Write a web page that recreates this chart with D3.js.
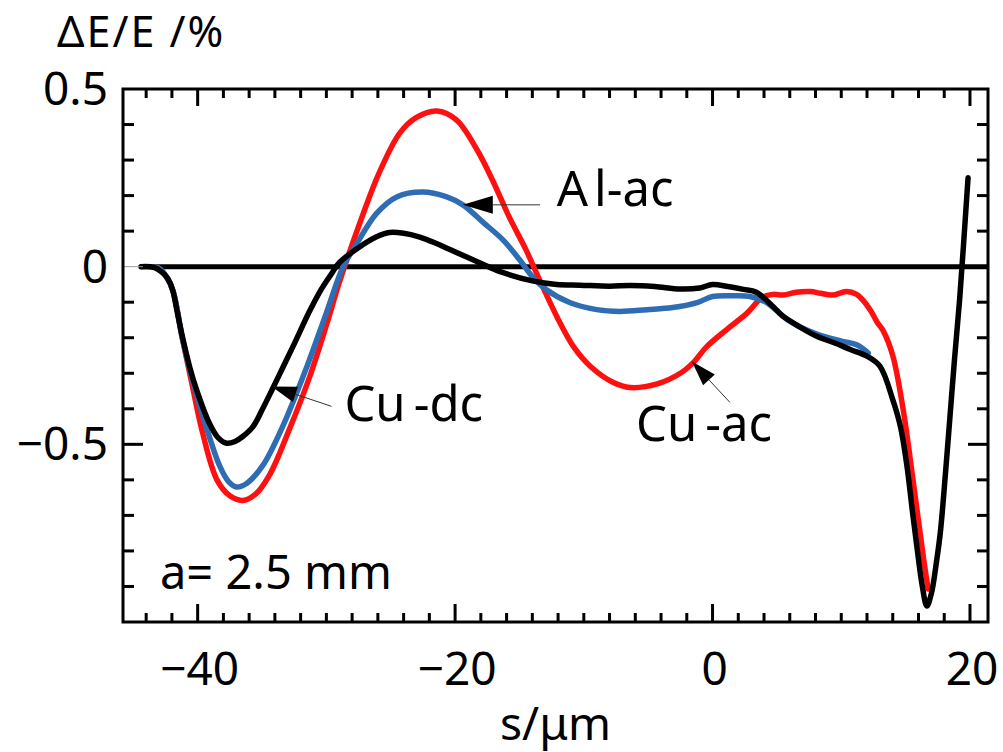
<!DOCTYPE html>
<html>
<head>
<meta charset="utf-8">
<script src="https://cdn.jsdelivr.net/npm/d3@7"></script>
<style>
  body { margin: 0; background: #fff; }
  svg { display: block; font-family: "Noto Sans", sans-serif; }
</style>
</head>
<body>
<div id="chart"></div>
<script>
// Cu-dc (black)
const cuDcS = [-44.4, -43.4, -42.8, -42.3, -41.95, -41.6, -41.2, -40.6, -40.1, -39.1, -38.4, -37.75, -37.1, -36.5, -35.7, -34.95, -34.2, -33.4, -32.6, -31.3, -30.5, -29.6, -29, -27.4, -26.1, -25.1, -24, -22.8, -21.5, -20.4, -18.1, -16.5, -14, -12.1, -10.3, -8, -6.4, -4.5, -2.5, -1, 0, 1.2, 2.4, 3.4, 4.7, 5.5, 6.8, 8.1, 9.5, 10.7, 12, 13, 14, 14.6, 15.1, 15.5, 15.9, 16.3, 16.65, 17, 17.4, 17.7, 18.1, 18.45, 18.8, 19.2, 19.85];
const cuDcV = [0, -0.002, -0.015, -0.035, -0.065, -0.125, -0.195, -0.285, -0.345, -0.44, -0.482, -0.497, -0.492, -0.478, -0.45, -0.4, -0.345, -0.285, -0.225, -0.125, -0.07, -0.02, 0.011, 0.056, 0.084, 0.096, 0.094, 0.084, 0.066, 0.048, 0.011, -0.014, -0.04, -0.05, -0.052, -0.055, -0.053, -0.056, -0.063, -0.06, -0.05, -0.056, -0.064, -0.072, -0.112, -0.14, -0.17, -0.196, -0.215, -0.233, -0.252, -0.28, -0.374, -0.45, -0.56, -0.68, -0.795, -0.9, -0.955, -0.92, -0.83, -0.747, -0.58, -0.42, -0.26, -0.09, 0.25];

// Cu-ac (red)
const cuAcS = [-43.6, -43, -42.4, -41.9, -41.2, -40.5, -39.6, -38.5, -37.5, -36.5, -35.5, -34.4, -32.9, -31.3, -30, -29, -27.4, -25.9, -24.3, -23, -21.4, -19.9, -18.3, -17.1, -15.8, -14.5, -13.4, -12.1, -10.8, -9.5, -7.7, -6.4, -4.3, -2.5, -1.5, -0.45, 1.1, 2.7, 3.9, 4.7, 5.5, 6.5, 7.6, 8.4, 9.3, 10.4, 11.2, 11.7, 12.3, 12.8, 13.25, 14, 14.8, 15.6, 16.4, 16.75];
const cuAcV = [0, -0.005, -0.03, -0.07, -0.2, -0.32, -0.47, -0.6, -0.645, -0.658, -0.64, -0.585, -0.46, -0.31, -0.165, -0.045, 0.123, 0.264, 0.376, 0.42, 0.438, 0.413, 0.329, 0.244, 0.14, 0.048, -0.04, -0.14, -0.225, -0.28, -0.326, -0.34, -0.33, -0.3, -0.27, -0.225, -0.177, -0.13, -0.085, -0.078, -0.08, -0.072, -0.07, -0.075, -0.08, -0.07, -0.078, -0.095, -0.125, -0.157, -0.18, -0.25, -0.4, -0.607, -0.823, -0.907];

// Al-ac (blue)
const alAcS = [-43.6, -43, -42.4, -41.9, -41.2, -40.4, -39.3, -38.3, -37.6, -37, -36.2, -34.95, -33.4, -31.5, -30, -28.7, -27.6, -26.1, -24.5, -22.5, -20.7, -19.4, -17.8, -16.3, -15, -14, -12.9, -11.1, -9, -7.2, -5.1, -3.1, -1.2, 0, 1.5, 2.9, 4.2, 5.8, 8.1, 10.1, 11.2, 12.1];
const alAcV = [0, -0.005, -0.03, -0.07, -0.2, -0.32, -0.455, -0.56, -0.605, -0.62, -0.61, -0.56, -0.45, -0.28, -0.13, 0, 0.067, 0.15, 0.197, 0.21, 0.197, 0.174, 0.124, 0.076, 0.02, -0.028, -0.065, -0.101, -0.121, -0.126, -0.121, -0.115, -0.101, -0.084, -0.082, -0.084, -0.101, -0.149, -0.19, -0.21, -0.22, -0.243];

const xTicks = [-40, -20, 0, 20];
const xTickLabels = ["\u221240", "\u221220", "0", "20"];
const yTicks = [0.5, 0, -0.5];
const yTickLabels = ["0.5", "0", "\u22120.5"];

const width = 1003;
const height = 752;
const margin = { top: 89, right: 15, bottom: 130, left: 123 };

const svg = d3
  .select("#chart")
  .append("svg")
  .attr("width", width)
  .attr("height", height);

const xScale = d3.scaleLinear().domain([-45.8, 21.4]).range([margin.left, width - margin.right]);
const yScale = d3.scaleLinear().domain([-1, 0.5]).range([height - margin.bottom, margin.top]);

const toRows = (xs, vs) => xs.map((s, i) => ({ s, v: vs[i] }));

function drawTicks() {
  const g = svg.append("g").attr("stroke", "#000").attr("stroke-width", 3);
  const x0 = xScale.range()[0];
  const x1 = xScale.range()[1];
  const y0 = yScale.range()[0];
  const y1 = yScale.range()[1];

  const xMinor = d3.range(-44, 21, 2).filter((d) => !xTicks.includes(d));
  const yMinor = d3.range(-9, 5).map((d) => d / 10).filter((d) => Math.abs(d * 2 - Math.round(d * 2)) > 1e-6);
  const yMajor = [-0.5, 0];

  xMinor.forEach((d) => {
    g.append("line").attr("x1", xScale(d)).attr("x2", xScale(d)).attr("y1", y0).attr("y2", y0 - 9);
    g.append("line").attr("x1", xScale(d)).attr("x2", xScale(d)).attr("y1", y1).attr("y2", y1 + 9);
  });
  xTicks.forEach((d) => {
    g.append("line").attr("x1", xScale(d)).attr("x2", xScale(d)).attr("y1", y0).attr("y2", y0 - 18);
    g.append("line").attr("x1", xScale(d)).attr("x2", xScale(d)).attr("y1", y1).attr("y2", y1 + 17);
  });
  yMinor.forEach((d) => {
    g.append("line").attr("x1", x0).attr("x2", x0 + 11).attr("y1", yScale(d)).attr("y2", yScale(d));
    g.append("line").attr("x1", x1).attr("x2", x1 - 11).attr("y1", yScale(d)).attr("y2", yScale(d));
  });
  yMajor.forEach((d) => {
    g.append("line").attr("x1", x0).attr("x2", x0 + 20).attr("y1", yScale(d)).attr("y2", yScale(d))
      .attr("stroke-width", d === 0 ? 1 : 3).attr("stroke", d === 0 ? "#999" : "#000");
    g.append("line").attr("x1", x1).attr("x2", x1 - 20).attr("y1", yScale(d)).attr("y2", yScale(d));
  });

  svg
    .append("rect")
    .attr("x", x0)
    .attr("y", y1)
    .attr("width", x1 - x0)
    .attr("height", y0 - y1)
    .attr("fill", "none")
    .attr("stroke", "#000")
    .attr("stroke-width", 3);
}

function drawLabels() {
  const labels = svg.append("g").attr("fill", "#000").attr("font-size", 46);

  labels
    .selectAll("text.xt")
    .data(xTicks)
    .enter()
    .append("text")
    .attr("x", (d) => xScale(d) + 2)
    .attr("y", 685)
    .attr("text-anchor", "middle")
    .text((d, i) => xTickLabels[i]);

  labels
    .selectAll("text.yt")
    .data(yTicks)
    .enter()
    .append("text")
    .attr("x", 108)
    .attr("y", (d) => Math.max(yScale(d) + 16, 100))
    .attr("text-anchor", "end")
    .text((d, i) => yTickLabels[i]);

  labels
    .append("text")
    .attr("x", (xScale.range()[0] + xScale.range()[1]) / 2)
    .attr("y", 740)
    .attr("text-anchor", "middle")
    .text("s/\u03bcm");

  labels
    .append("text")
    .attr("x", 57)
    .attr("y", 47)
    .attr("font-size", 43)
    .attr("letter-spacing", 2)
    .text("\u0394E/E /%");

  labels.append("text").attr("x", 160).attr("y", 589).attr("font-size", 47).text("a= 2.5 mm");
}

function drawCurves() {
  const line = d3
    .line()
    .x((d) => xScale(d.s))
    .y((d) => yScale(d.v))
    .curve(d3.curveCatmullRom.alpha(0.5));

  svg
    .append("line")
    .attr("x1", xScale(-44.4))
    .attr("x2", xScale.range()[1])
    .attr("y1", yScale(0))
    .attr("y2", yScale(0))
    .attr("stroke", "#000")
    .attr("stroke-width", 5);

  const series = [
    { rows: toRows(cuAcS, cuAcV), color: "#ff1010" },
    { rows: toRows(alAcS, alAcV), color: "#2e6db4" },
    { rows: toRows(cuDcS, cuDcV), color: "#000" },
  ];

  series.forEach((item) => {
    svg
      .append("path")
      .datum(item.rows)
      .attr("fill", "none")
      .attr("stroke", item.color)
      .attr("stroke-width", 5.5)
      .attr("stroke-linejoin", "round")
      .attr("stroke-linecap", "round")
      .attr("d", line);
  });
}

function drawArrow(tip, tail, headLength, headHalf) {
  const tx = xScale(tip[0]);
  const ty = yScale(tip[1]);
  const ex = xScale(tail[0]);
  const ey = yScale(tail[1]);
  const len = Math.hypot(ex - tx, ey - ty);
  const ux = (ex - tx) / len;
  const uy = (ey - ty) / len;
  const bx = tx + ux * headLength;
  const by = ty + uy * headLength;

  svg
    .append("line")
    .attr("x1", bx)
    .attr("y1", by)
    .attr("x2", ex)
    .attr("y2", ey)
    .attr("stroke", "#333")
    .attr("stroke-width", 1);

  svg
    .append("path")
    .attr("d", `M${tx},${ty}L${bx - uy * headHalf},${by + ux * headHalf}L${bx + uy * headHalf},${by - ux * headHalf}Z`)
    .attr("fill", "#000");
}

function drawAnnotations() {
  drawArrow([-19.4, 0.174], [-13.4, 0.174], 30, 9);
  drawArrow([-34.25, -0.337], [-29.6, -0.393], 25, 8);
  drawArrow([-1.6, -0.267], [1.35, -0.382], 25, 8);

  const g = svg.append("g").attr("fill", "#000").attr("font-size", 49);
  const al = g.append("text").attr("x", xScale(-12.1)).attr("y", yScale(0.172));
  al.append("tspan").text("A");
  al.append("tspan").attr("dx", 6).text("l-ac");

  const dc = g.append("text").attr("x", xScale(-28.6)).attr("y", yScale(-0.435));
  dc.append("tspan").text("Cu");
  dc.append("tspan").attr("dx", 8).text("-dc");

  const ac = g.append("text").attr("x", xScale(-5.95)).attr("y", yScale(-0.49));
  ac.append("tspan").text("Cu");
  ac.append("tspan").attr("dx", 8).text("-ac");
}

drawCurves();
drawTicks();
drawAnnotations();
drawLabels();
</script>
</body>
</html>
